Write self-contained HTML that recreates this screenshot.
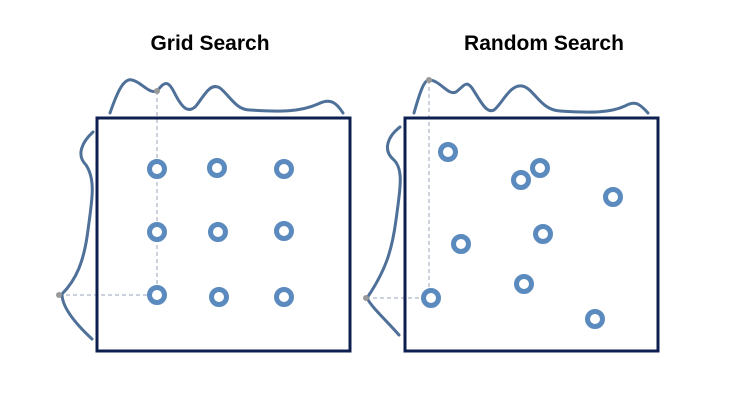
<!DOCTYPE html>
<html><head><meta charset="utf-8"><style>
html,body{margin:0;padding:0;background:#fff}
svg{display:block}
text{font-family:"Liberation Sans",sans-serif;font-weight:bold;font-size:21px;fill:#000}
</style></head><body>
<svg width="742" height="403" viewBox="0 0 742 403">
<g id="content"></g>
</svg>
<script>
const gridX=[157,218,284], gridY=[169,232,296];
const gridPts=[[157,169],[217,168],[284,169],[157,232],[218,232],[284,231],[157,295],[219,297],[284,297]];
const randPts=[[448,152],[521,180],[540,168],[613,197],[461,244],[543,234],[524,284],[431,298],[595,319]];
const titles=["Grid Search","Random Search"];
const NS="http://www.w3.org/2000/svg";
const root=document.getElementById('content');
function mk(tag,attrs,parent){const e=document.createElementNS(NS,tag);for(const k in attrs)e.setAttribute(k,attrs[k]);(parent||root).appendChild(e);return e;}
const panels=[
 {x:97,title:titles[0],tx:210,pts:gridPts,
  top:"M110,113 C118,90 124,78 132,80 C142,82 150,96 158,90 C164,82 168,80 174,92 C182,108 188,114 196,106 C204,96 210,82 220,88 C230,96 236,110 250,110 C280,112 300,112 318,104 C330,98 336,102 343,113",
  left:"M93,132 C82,142 76,155 86,165 C96,180 92,200 88,230 C84,262 76,280 62,294 C62,308 78,326 92,339",
  dot:[[157,91],[59,295]],guide:"M157,91 L157,295 M59,295 L157,295"},
 {x:405,title:titles[1],tx:544,pts:randPts,
  top:"M414,113 C420,92 424,80 429,80 C440,80 448,96 456,92 C464,86 466,80 472,88 C480,100 486,114 494,110 C502,104 510,84 522,86 C534,88 540,110 560,111 C590,113 610,113 625,106 C635,100 640,104 648,113",
  left:"M400,127 C388,136 382,150 394,160 C404,170 400,190 396,220 C392,250 386,270 367,298 C372,308 388,322 399,335",
  dot:[[429,80],[366,298]],guide:"M429,80 L429,298 M366,298 L431,298"}
];
panels.forEach((p,i)=>{
 const g=mk('g',{});
 
 
 const t=mk('text',{x:p.tx,y:50,'text-anchor':'middle'},g);t.textContent=p.title;
 
 
 const gd=mk('path',{d:p.guide,stroke:'#9aa3bd','stroke-width':1,'stroke-dasharray':'4,3',fill:'none'},g);
 
 
 const c1=mk('path',{d:p.top,stroke:'#4e7099','stroke-width':3,fill:'none','stroke-linecap':'round'},g);
 
 
 const c2=mk('path',{d:p.left,stroke:'#4e7099','stroke-width':3,fill:'none','stroke-linecap':'round'},g);
 
 
 p.dot.forEach(d=>{const c=mk('circle',{cx:d[0],cy:d[1],r:3,fill:'#999'},g);
  
  });
 const r=mk('rect',{x:p.x,y:118,width:253,height:233,fill:'none',stroke:'#0c1f4f','stroke-width':3},g);
 
 
 p.pts.forEach(pt=>{const c=mk('circle',{cx:pt[0],cy:pt[1],r:7.5,fill:'#fff',stroke:'#5b8bbe','stroke-width':5},g);
  
  });
});
</script>
</body></html>
